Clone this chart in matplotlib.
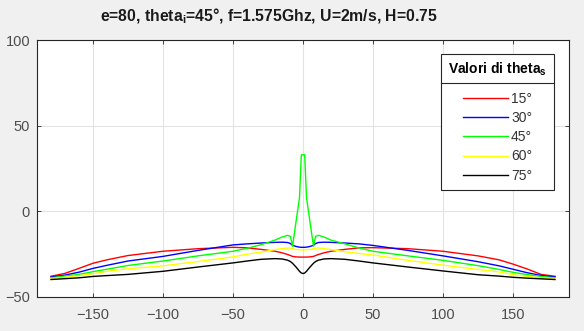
import matplotlib
matplotlib.use("Agg")
import matplotlib.pyplot as plt
from matplotlib.lines import Line2D

plt.rcParams['font.family'] = ['Liberation Sans', 'DejaVu Sans']
plt.rcParams['mathtext.fontset'] = 'custom'
plt.rcParams['mathtext.rm'] = 'Liberation Sans'
plt.rcParams['mathtext.bf'] = 'Liberation Sans:bold'
plt.rcParams['mathtext.it'] = 'Liberation Sans:italic'

# ---- data ----
angles = [-180, -170, -160, -150, -140, -125, -100, -75, -50, -40, -30, -20, -15, -11, -9,
          -7.5, -5, -2.5, -1.2, 0, 1.2, 2.5, 5, 7.5, 9, 11, 15, 20, 30, 40, 50, 75, 100,
          125, 140, 150, 160, 170, 180]

theta15 = [-37.9, -36.2, -33.3, -30.3, -28.3, -25.8, -23.3, -21.8, -21.0, -21.3, -22.2, -23.3, -24.2, -25.2, -25.8,
           -26.3, -26.6, -26.7, -26.7, -26.7, -26.7, -26.7, -26.6, -26.3, -25.8, -25.2, -24.2, -23.3, -22.2, -21.3, -21.2, -21.8, -23.3,
           -26.0, -28.3, -30.8, -33.6, -36.8, -37.9]
theta30 = [-38.3, -37.2, -35.5, -33.3, -31.5, -29.0, -26.3, -22.8, -19.6, -19.0, -18.5, -18.1, -18.0, -18.2, -18.8,
           -19.8, -20.5, -20.9, -21.0, -21.0, -21.0, -20.9, -20.5, -19.8, -18.8, -18.2, -18.0, -18.1, -18.5, -19.0, -19.9, -22.8, -26.0,
           -29.4, -31.8, -33.8, -35.8, -37.4, -38.3]
theta45 = [-38.8, -37.8, -36.8, -35.2, -33.8, -31.6, -29.0, -26.0, -23.3, -21.6, -19.5, -16.8, -15.0, -14.0, -14.6,
           -20.4, -6.2, 8.0, 33.0, 33.0, 33.0, 8.0, -6.2, -20.4, -14.6, -14.0, -15.0, -16.8, -19.0, -21.4, -23.3, -26.0, -28.6,
           -31.7, -33.9, -35.6, -36.9, -38.0, -38.8]
theta60 = [-39.2, -38.5, -37.5, -36.4, -35.0, -33.5, -31.8, -29.3, -26.6, -25.0, -23.8, -22.3, -21.7, -21.4, -21.5,
           -21.8, -22.2, -22.4, -22.5, -22.5, -22.5, -22.4, -22.2, -21.8, -21.5, -21.4, -21.7, -22.3, -23.6, -24.6, -25.5, -28.6, -31.4,
           -33.9, -35.4, -37.0, -38.0, -38.8, -39.2]
theta75 = [-39.8, -39.3, -38.8, -38.0, -37.5, -36.8, -35.0, -32.5, -30.1, -29.0, -28.0, -27.6, -27.8, -28.5, -29.3,
           -30.3, -32.5, -35.0, -36.0, -36.3, -36.0, -35.0, -32.5, -30.3, -29.3, -28.5, -27.8, -27.6, -28.0, -29.0, -30.1, -32.5, -34.8,
           -37.0, -37.8, -38.5, -39.0, -39.4, -39.8]

series = [theta15, theta30, theta45, theta60, theta75]
labels = ['15°', '30°', '45°', '60°', '75°']
colors = ['#ff0000', '#0000ff', '#00ff00', '#ffff00', '#000000']

xticks = [-150, -100, -50, 0, 50, 100, 150]
yticks = [-50, 0, 50, 100]

# ---- figure ----
W, H = 584, 331
fig = plt.figure(figsize=(W / 100, H / 100), dpi=100, facecolor='#f0f0f0')
L, R, T, B = 37, 569, 40, 297
ax = fig.add_axes([L / W, 1 - B / H, (R - L) / W, (B - T) / H])
ax.set_facecolor('white')

for vals, lab, c in zip(series, labels, colors):
    ax.plot(angles, vals, color=c, lw=1.0, label=lab)

ax.set_xlim(-190, 190)
ax.set_ylim(-50, 100)
ax.set_xticks(xticks)
ax.set_yticks(yticks)
ax.grid(True, color='#e3e3e3', lw=0.8)
ax.set_axisbelow(True)
ax.tick_params(direction='in', length=3, width=0.6, colors='#262626',
               labelcolor='#4d4d4d', labelsize=10.5, top=True, right=True)
ax.tick_params(axis='x', pad=8)
ax.tick_params(axis='y', pad=5)
for s in ax.spines.values():
    s.set_color('#262626')
    s.set_linewidth(0.8)

fig.text(269 / W, 1 - 16 / H,
         r'e=80, theta$_\mathbf{i}$=45°, f=1.575Ghz, U=2m/s, H=0.75',
         ha='center', va='center', fontsize=11.3, fontweight='bold', color='#1a1a1a')

leg = ax.legend(title=r'Valori di theta$_\mathbf{s}$', loc='upper right',
                bbox_to_anchor=((554 - L) / (R - L), (B - 54) / (B - T)),
                borderaxespad=0, fontsize=10, frameon=True, fancybox=False,
                handlelength=3.2, handletextpad=0.25, labelspacing=0.38,
                borderpad=0.5, framealpha=1, edgecolor='#262626')
leg.get_frame().set_linewidth(0.8)
leg.get_title().set_fontweight('bold')
leg.get_title().set_fontsize(10)
leg._legend_box.sep = 9.5
for t in leg.get_texts():
    t.set_color('#333333')

fig.canvas.draw()
bb = leg.get_window_extent()
tb = leg.get_title().get_window_extent()
ysep = tb.y0 - 5
line = Line2D([bb.x0, bb.x1], [ysep, ysep], transform=None, color='#262626', lw=0.8)
fig.add_artist(line)

fig.savefig('out.png', dpi=100, facecolor=fig.get_facecolor())
